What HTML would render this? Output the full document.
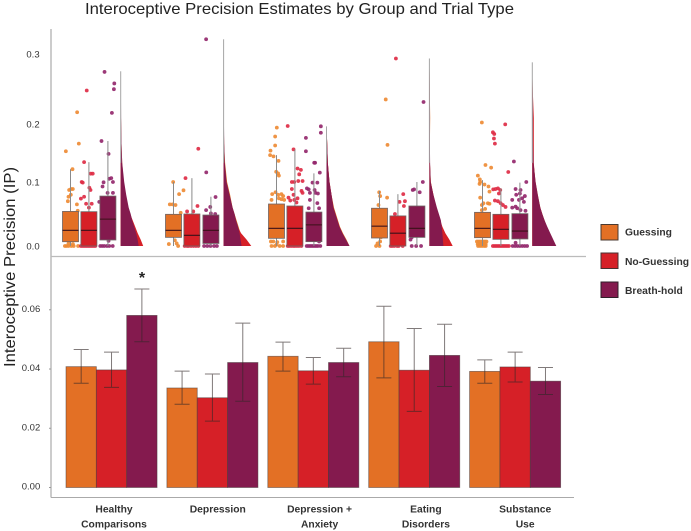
<!DOCTYPE html>
<html lang="en">
<head>
<meta charset="utf-8">
<title>Interoceptive Precision Estimates by Group and Trial Type</title>
<style>
html,body{margin:0;padding:0;background:#fff;}
svg{display:block;font-family:"Liberation Sans",sans-serif;filter:blur(.35px);}
</style>
</head>
<body>
<svg id="chart" width="691" height="531" viewBox="0 0 691 531" xmlns="http://www.w3.org/2000/svg">
<rect x="0" y="0" width="691" height="531" fill="#fff"/>
<text x="85" y="14" font-size="16" fill="#222" textLength="429" lengthAdjust="spacingAndGlyphs">Interoceptive Precision Estimates by Group and Trial Type</text>
<text transform="translate(15,367) rotate(-90)" font-size="15.5" fill="#222" textLength="200" lengthAdjust="spacingAndGlyphs">Interoceptive Precision (IP)</text>
<line x1="51" y1="29" x2="51" y2="497.5" stroke="#999" stroke-width="1"/>
<line x1="51" y1="256.5" x2="586" y2="256.5" stroke="#bbb" stroke-width="1.2"/>
<line x1="51" y1="497.5" x2="574" y2="497.5" stroke="#aaa" stroke-width="1"/>
<g id="ticks"></g>
<g id="rain"></g>
<g id="bars"></g>
<g id="cats"></g>
<text x="142" y="283" font-size="16" font-weight="bold" fill="#222" text-anchor="middle">*</text>
<g>
<g>
<rect x="601" y="224.5" width="17" height="15.5" fill="#E37025" stroke="#4a3a30" stroke-width="1"/>
<text x="625" y="235.5" font-size="10.3" font-weight="bold" fill="#333">Guessing</text>
</g>
<g>
<rect x="601" y="253" width="17" height="15.5" fill="#D62027" stroke="#4a3030" stroke-width="1"/>
<text x="625" y="265" font-size="10.3" font-weight="bold" fill="#333">No-Guessing</text>
</g>
<g>
<rect x="601" y="282" width="17" height="15.5" fill="#841A4E" stroke="#30202a" stroke-width="1"/>
<text x="625" y="294" font-size="10.3" font-weight="bold" fill="#333">Breath-hold</text>
</g>
</g>
</svg>
<script>
// ---- data ----
const categories = [["Healthy","Comparisons"],["Depression"],["Depression +","Anxiety"],["Eating","Disorders"],["Substance","Use"]];
const seriesNames = ["guessing","no-guessing","breath-hold"];
const topTicks = [0.0,0.1,0.2,0.3];
const bottomTicks = [0.00,0.02,0.04,0.06];

const barMeans = [[.0408,.0397,.0581],[.0336,.0303,.0422],[.0443,.0394,.0422],[.0492,.0396,.0446],[.0392,.0407,.0359]];
const errorHigh = [[.0466,.0457,.067],[.0393,.0383,.0555],[.0491,.0439,.047],[.0612,.0537,.0551],[.0431,.0457,.0405]];
const errorLow = [[.0352,.0338,.0492],[.0281,.0224,.0291],[.0393,.0349,.0374],[.037,.0257,.0341],[.0352,.0356,.0314]];

const boxQ1 = [[.0067,0,.0094],[.0135,0,.004],[.012,0,.0068],[.0125,0,.0135],[.013,.0104,.011]];
const boxMedian = [[.0245,.0245,.042],[.0245,.0167,.0245],[.0276,.0276,.033],[.031,.02,.0276],[.0276,.026,.0234]];
const boxQ3 = [[.054,.0536,.078],[.0495,.05,.0484],[.0656,.0625,.053],[.059,.047,.0625],[.0526,.0495,.0505]];
const whiskerHigh = [[.12,.131,.164],[.1,.106,.077],[.142,.151,.1135],[.086,.081,.1],[.103,.09,.099]];

const densityLevels = [0,.01,.02,.03,.04,.05,.06,.08,.10,.13,.16,.20,.25,.33];
const densityMax = [.273,.323,.187,.293,.287];
const densityGuessing = [
 [19,18,16,14,11.5,9,7,4.5,3,1.5,.8,.3,.2,.1],
 [19,18,17,15,13,11,9,6.5,3.5,1.5,.5,.2,.1,.1],
 [23,20,16.5,13.5,11.5,9.5,7.5,5,3,1.3,.7,.3,.1,.1],
 [15,14,13,12,11,9,7,4,1.5,.5,.5,.8,.3,.3],
 [23.5,20.5,17.5,14.5,12.3,10,8,5.5,3.3,1.2,.8,.8,.3,.3]];
const densityNoGuessing = [
 [22.5,20,17,14.5,12,9.5,7,4.5,2.5,1.2,.6,.3,.2,.1],
 [27.7,23,17.5,14,12,10,8,5,2.5,1,.5,.2,.2,.2],
 [22.7,19,16,13,11,9,7,5,3,1.3,.7,.3,.1,.1],
 [23.3,20,16,13,11,9,7,4,1.3,.5,.3,.3,.3,.3],
 [23,20,17,14,12,10,8,5,3,1.5,1.5,1.5,.3,.3]];
const densityBreathHold = [
 [18,17,15.5,13.5,11.5,10,8,5.5,3.5,1.5,.8,.4,.2,.1],
 [18,17,16,14.5,12.5,11,9,6,3,1.2,.6,.3,.2,.2],
 [23,19.5,16,13,11,9,7,5,3,1.3,.7,.3,.1,.1],
 [14,13.5,13,12.3,11.5,9.5,7.5,4,1.3,.7,.5,.5,.3,.3],
 [24,21,18,15,12.3,10,8,5.5,3.3,1.2,.7,.6,.3,.3]];

// each point: [jitter relative to the box half-width, precision value]
const pointsGuessing = [
 [[-.58,.148],[.83,.209],[1.04,.16],[.25,.12],[.08,.089],[-.17,.0875],[.29,.089],[-.25,.077],[.04,.08],[-.33,.07],[.8,.065],[-.46,.05],[.9,.055],[-.7,0],[-.5,0],[-.25,0],[.1,0],[.4,0],[.95,0],[-.25,.004],[.3,.003]],
 [[-.04,.1],[.7,.081],[1.25,.087],[-.46,.065],[-.12,.065],[.25,.064],[-.58,.003],[.17,.009],[.58,0],[.9,.052],[.4,.004]],
 [[.04,.185],[-.17,.171],[-.17,.157],[-.75,.149],[-.8,.142],[-.37,.14],[.25,.133],[-.04,.116],[.2,.1135],[.3,.11],[-.12,.084],[-.54,.081],[.2,.08],[.62,.081],[.83,.078],[.3,.0745],[-.62,.072],[.62,.073],[.96,.072],[-.7,.007],[-.4,.007],[-.2,0],[-.62,0],[0,.002],[.4,0],[.83,0],[.83,.007],[.1,.006]],
 [[.78,.229],[1,.158],[-.04,.084],[.08,.078],[.95,.0755],[-.13,.064],[-.43,0],[0,0],[.08,.007],[-.25,.004],[.17,.0135]],
 [[-.08,.193],[.37,.1266],[1.08,.1224],[-.58,.11],[-.33,.104],[-.29,.1],[-.37,.097],[.25,.096],[.75,.093],[-.29,.0755],[.87,.085],[.12,.0667],[.67,.0667],[-.08,.064],[.33,.058],[-.08,.056],[.87,.066],[-.7,.007],[-.5,.007],[-.3,.007],[-.1,.007],[.1,.007],[.3,.007],[.5,.007],[-.6,.003],[-.4,.003],[-.2,.003],[0,.003],[.2,.003],[.4,.003],[-.55,0],[-.3,0],[-.05,0],[.2,0],[.4,0]]];
const pointsNoGuessing = [
 [[-.27,.243],[-.6,.131],[-.9,.1],[-.77,.099],[.23,.113],[.48,.113],[.06,.091],[-1,.074],[-.6,.077],[.2,.0875],[-.35,.066],[.35,.066],[0,.06],[-1,0],[-.8,0],[-.6,0],[-.4,0],[-.2,0],[0,0],[.2,0],[.4,0],[.6,0],[.8,0]],
 [[.8,.152],[-.8,.106],[.7,.0625],[-.6,.054],[.17,.054],[-.9,0],[-.6,0],[-.4,0],[-.1,0],[.2,0],[.5,0],[.8,0]],
 [[-.9,.1875],[-.17,.151],[.33,.121],[.75,.119],[.54,.112],[-.38,.1],[-.08,.1],[.42,.1015],[.96,.1015],[-.38,.089],[-.8,.0755],[-.17,.08],[.83,.086],[.96,.083],[.33,.0745],[-.58,.071],[-.08,.072],[.2,.068],[-.9,0],[-.7,0],[-.45,0],[-.2,0],[0,0],[.25,0],[.5,0],[.8,0]],
 [[-.25,.293],[.67,.081],[.2,.069],[.88,.07],[.75,.0625],[-.37,.05],[-.9,0],[-.7,0],[-.45,0],[-.1,0],[.1,0],[.6,0]],
 [[.54,.19],[-1,.1776],[-.83,.175],[-.87,.168],[-.75,.16],[.92,.1156],[-.96,.0885],[-.67,.089],[-.37,.09],[-.08,.0875],[-.25,.082],[-.75,.071],[-.37,.07],[-.04,.067],[.25,.064],[.58,.061],[-1,0],[-.8,0],[-.6,0],[-.4,0],[-.2,0],[0,0],[.2,0],[.4,0],[.6,0],[.8,0],[1,0]]];
const pointsBreathHold = [
 [[-.42,.272],[.8,.254],[.75,.245],[.5,.208],[-.8,.164],[.08,.144],[-.54,.0995],[-.67,.093],[.17,.105],[.42,.106],[.63,.1],[-.04,.083],[.63,.083],[-1.08,.069],[-.95,0],[-.7,0],[-.45,0],[-.12,0],[.17,0],[.6,0],[.08,.008]],
 [[-.6,.323],[-.58,.115],[.58,.0765],[-.08,.061],[-.6,.056],[0,.051],[.54,.05],[-.85,0],[-.45,0],[-.05,0],[.4,0],[.75,0]],
 [[.87,.187],[.87,.177],[-1,.169],[-1,.148],[.04,.13],[.15,.13],[.74,.1146],[-.87,.09],[-.65,.0885],[-.17,.099],[.43,.099],[.09,.0875],[.2,.083],[-.5,.083],[.5,.082],[-.5,.072],[.43,.067],[.65,.059],[-.65,.059],[-.9,0],[-.7,0],[-.5,0],[-.3,0],[-.1,0],[.1,0],[.3,0],[.5,0],[.8,0],[.65,.007]],
 [[.83,.225],[.74,.1],[-.52,.0875],[-.35,.0885],[.35,.084],[-.65,.0135],[-.8,.01],[-.65,0],[-.09,0],[.52,0]],
 [[-.75,.132],[-.54,.089],[.8,.1],[.08,.0875],[0,.082],[-.46,.08],[.62,.078],[.29,.0745],[-.12,.072],[.5,.069],[-.96,.072],[-.54,.0615],[-.96,.06],[-.33,.059],[.7,.055],[.08,.056],[-.9,0],[-.6,0],[-.3,0],[0,0],[.3,0],[.6,0],[.9,0],[-.54,.005]]];

const fills = ["#E37025","#D62027","#841A4E"];
const dotFills = ["#EE8B35","#DE2C45","#94286C"];

// ---- axis functions ----
const yTop = v => 246 - v * 640;
const yBottom = v => 487.5 - v * 2962;
const xBar = (g, s) => 66 + g * 100.9 + s * 30.35;
const BAR_W = 30.35;
const BOX_W = 16;
const xBox = (g, s) => 62.5 + g * 103 + [0, 18.4, 37.4][s];
const xCloud = g => 120.7 + g * 102.9;
const xCategory = g => 114 + g * 102.8 + [0, 1, 0, 3.5, 0][g];

const NS = "http://www.w3.org/2000/svg";
function make(tag, parent, attrs, text) {
  const el = document.createElementNS(NS, tag);
  for (const k in attrs) el.setAttribute(k, attrs[k]);
  if (text !== undefined) el.textContent = text;
  parent.appendChild(el);
  return el;
}
const ticksG = document.getElementById("ticks");
const rainG = document.getElementById("rain");
const barsG = document.getElementById("bars");
const catsG = document.getElementById("cats");

// ---- ticks ----
topTicks.forEach(t => {
  const nudge = t === 0.2 ? 6 : 0; // the source figure prints this label slightly low
  const label = make("text", ticksG, {x: 33, y: yTop(t) + 3.5 + nudge, "font-size": 9.5, fill: "#333", "text-anchor": "middle"}, t.toFixed(1));
  
  
});
bottomTicks.forEach(t => {
  const label = make("text", ticksG, {x: 31, y: yBottom(t) + 2, "font-size": 9.5, fill: "#333", "text-anchor": "middle"}, t.toFixed(2));
  
  
  const mark = make("line", ticksG, {x1: 49, x2: 51, y1: yBottom(t), y2: yBottom(t), stroke: "#999"});
  
  
});

// ---- raincloud panel ----
const pointSets = [pointsGuessing, pointsNoGuessing, pointsBreathHold];
const densitySets = [densityGuessing, densityNoGuessing, densityBreathHold];

categories.forEach((cat, g) => {
  // points first so that boxes sit on top of them
  seriesNames.forEach((name, s) => {
    const cx = xBox(g, s) + BOX_W / 2;
    pointSets[s][g].forEach(p => {
      const dot = make("circle", rainG, {cx: cx + p[0] * BOX_W / 2, cy: yTop(p[1]), r: 1.9, fill: dotFills[s], opacity: .92});
      
      
    });
  });
  // boxes
  seriesNames.forEach((name, s) => {
    const x = xBox(g, s), cx = x + BOX_W / 2;
    const whisker = make("line", rainG, {x1: cx, x2: cx, y1: yTop(whiskerHigh[g][s]), y2: yTop(0), stroke: "#8a8a8a", "stroke-width": 1});
    
    
    const box = make("rect", rainG, {x: x, y: yTop(boxQ3[g][s]), width: BOX_W, height: yTop(boxQ1[g][s]) - yTop(boxQ3[g][s]), fill: fills[s], stroke: "#6e6464", "stroke-width": .8});
    
    
    const med = make("line", rainG, {x1: x, x2: x + BOX_W, y1: yTop(boxMedian[g][s]), y2: yTop(boxMedian[g][s]), stroke: "#3a1018", "stroke-width": 1.1});
    
    
  });
  // half violins
  const x0 = xCloud(g);
  [0, 1, 2].forEach(s => {
    let d = "M" + x0 + " " + yTop(0);
    densityLevels.forEach((lv, i) => {
      if (lv < densityMax[g]) d += " L" + (x0 + densitySets[s][g][i]).toFixed(2) + " " + yTop(lv).toFixed(2);
    });
    d += " L" + x0 + " " + yTop(densityMax[g]).toFixed(2) + " Z";
    const cloud = make("path", rainG, {d: d, fill: fills[s]});
    
    
  });
  const spine = make("line", rainG, {x1: x0, x2: x0, y1: yTop(densityMax[g]), y2: yTop(0.13), stroke: "#a5a5a5", "stroke-width": 1});
  
  
});

// ---- bar panel ----
categories.forEach((cat, g) => {
  seriesNames.forEach((name, s) => {
    const top = yBottom(barMeans[g][s]);
    const bar = make("rect", barsG, {x: xBar(g, s), y: top, width: BAR_W, height: yBottom(0) - top, fill: fills[s], stroke: "rgba(70,60,60,.6)", "stroke-width": .8});
    
    
  });
});
categories.forEach((cat, g) => {
  seriesNames.forEach((name, s) => {
    const cx = xBar(g, s) + BAR_W / 2;
    const hi = yBottom(errorHigh[g][s]), lo = yBottom(errorLow[g][s]);
    const d = "M" + (cx - 7.5) + " " + hi + " H" + (cx + 7.5) + " M" + cx + " " + hi + " V" + lo + " M" + (cx - 7.5) + " " + lo + " H" + (cx + 7.5);
    const err = make("path", barsG, {d: d, fill: "none", stroke: "rgba(50,40,40,.62)", "stroke-width": 1});
    
    
  });
});

// ---- group labels ----
categories.forEach((cat, g) => {
  cat.forEach((line, i) => {
    const label = make("text", catsG, {x: xCategory(g), y: 512.5 + i * 15, "font-size": 10.3, "font-weight": "bold", fill: "#333", "text-anchor": "middle"}, line);
    
    
  });
});
</script>
</body>
</html>
